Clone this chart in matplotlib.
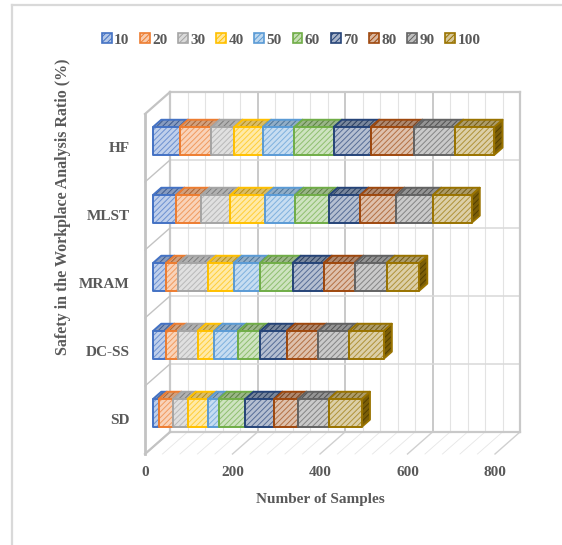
import matplotlib
matplotlib.use("Agg")
import matplotlib.pyplot as plt
from matplotlib.patches import Polygon, Patch
from matplotlib.lines import Line2D
from matplotlib.colors import to_rgb

# categories listed bottom-to-top
categories = ["SD", "DC-SS", "MRAM", "MLST", "HF"]
series_names = ["10", "20", "30", "40", "50", "60", "70", "80", "90", "100"]
series_colors = ["#4472C4", "#ED7D31", "#A5A5A5", "#FFC000", "#5B9BD5",
                 "#70AD47", "#264478", "#9E480E", "#636363", "#997300"]

# samples per ratio level, one row per category (same order as categories)
samples = [
    [13, 33, 33, 47, 24, 61, 66, 55, 70, 75],   # SD
    [30, 28, 44, 38, 55, 50, 61, 72, 70, 79],   # DC-SS
    [30, 28, 67, 59, 61, 74, 71, 72, 72, 74],   # MRAM
    [53, 57, 67, 80, 68, 78, 71, 82, 84, 88],   # MLST
    [61, 72, 53, 65, 72, 90, 85, 99, 93, 90],   # HF
]
x_ticks = [0, 200, 400, 600, 800]

TEXT = "#595959"
plt.rcParams["font.family"] = ["Liberation Serif", "DejaVu Serif"]
plt.rcParams["font.weight"] = "bold"
plt.rcParams["hatch.linewidth"] = 0.7

# oblique 3-D projection: depth d in [0, 1] shifts points right/up
PX_PER_UNIT = 0.4375
PX_PER_CAT = 68.0
X0_PX, Y0_PX = 145.0, 454.0
DX = 25.0 / PX_PER_UNIT
DY = 22.0 / PX_PER_CAT
BAR_D0, BAR_D1 = 0.32, 0.65
BAR_HALF = 0.205


def P(v, c, d):
    return (v + d * DX, c + d * DY)


def mix(col, other, t):
    a = to_rgb(col)
    b = to_rgb(other)
    return tuple(a[i] * (1 - t) + b[i] * t for i in range(3))


def face(ax, pts, bg, hatch_col, edge_col, z):
    ax.add_patch(Polygon(pts, closed=True, facecolor=bg, edgecolor=hatch_col,
                         hatch="//////", linewidth=0, zorder=z))
    ax.add_patch(Polygon(pts, closed=True, fill=False, edgecolor=edge_col,
                         linewidth=1.4, joinstyle="round", zorder=z + 0.0001))


W, H = 562, 545
fig = plt.figure(figsize=(W / 100, H / 100), dpi=100)
ax = fig.add_axes([0, 0, 1, 1])
ax.set_xlim(-X0_PX / PX_PER_UNIT, (W - X0_PX) / PX_PER_UNIT)
ax.set_ylim((Y0_PX - H) / PX_PER_CAT, Y0_PX / PX_PER_CAT)
ax.axis("off")

# chart frame
fig.add_artist(Line2D([12 / W, 12 / W], [0, 1 - 5 / H], transform=fig.transFigure,
                      color="#d9d9d9", lw=1.6))
fig.add_artist(Line2D([12 / W, 1], [1 - 5 / H, 1 - 5 / H], transform=fig.transFigure,
                      color="#d9d9d9", lw=1.6))

n_cat = len(categories)
vmax = x_ticks[-1]

# back wall, floor and left wall grid
for k in range(0, vmax + 1, 40):
    major = k % 200 == 0
    col = "#c9c9c9" if major else "#e3e3e3"
    lw = 1.4 if major else 0.8
    (xa, ya), (xb, yb) = P(k, 0, 1), P(k, n_cat, 1)
    ax.plot([xa, xb], [ya, yb], color=col, lw=lw, zorder=1)
    (xa, ya), (xb, yb) = P(k, 0, 0), P(k, 0, 1)
    ax.plot([xa, xb], [ya, yb], color="#d0d0d0" if major else "#e6e6e6",
            lw=1.0 if major else 0.6, zorder=1)
for c in range(n_cat + 1):
    (xa, ya), (xb, yb) = P(0, c, 1), P(vmax, c, 1)
    edge = c in (0, n_cat)
    ax.plot([xa, xb], [ya, yb], color="#c9c9c9" if edge else "#d9d9d9",
            lw=1.6 if edge else 1.1, zorder=1)
    (xa, ya), (xb, yb) = P(0, c, 0), P(0, c, 1)
    ax.plot([xa, xb], [ya, yb], color="#c3c3c3", lw=1.6 if edge else 1.0, zorder=2)
(xa, ya), (xb, yb) = P(0, 0, 0), P(0, n_cat, 0)
ax.plot([xa, xb], [ya, yb], color="#c3c3c3", lw=2.0, zorder=2)
(xa, ya), (xb, yb) = P(0, 0, 1), P(0, n_cat, 1)
ax.plot([xa, xb], [ya, yb], color="#c9c9c9", lw=1.6, zorder=1)
(xa, ya), (xb, yb) = P(vmax, 0, 1), P(vmax, n_cat, 1)
ax.plot([xa, xb], [ya, yb], color="#c9c9c9", lw=1.6, zorder=1)

# stacked 3-D bars
for i, row in enumerate(samples):
    c0, c1 = i + 0.5 - BAR_HALF, i + 0.5 + BAR_HALF
    left = 0
    for j, val in enumerate(row):
        right = left + val
        base = series_colors[j]
        front_bg = mix(base, "white", 0.66)
        front_h = mix(base, "white", 0.22)
        top_bg = mix(mix(base, "white", 0.45), "#404040", 0.2)
        side_bg = mix(base, "#202020", 0.25)
        z = 5 + i * 0.1 + j * 0.005
        side = [P(right, c0, BAR_D0), P(right, c0, BAR_D1),
                P(right, c1, BAR_D1), P(right, c1, BAR_D0)]
        top = [P(left, c1, BAR_D0), P(right, c1, BAR_D0),
               P(right, c1, BAR_D1), P(left, c1, BAR_D1)]
        front = [P(left, c0, BAR_D0), P(right, c0, BAR_D0),
                 P(right, c1, BAR_D0), P(left, c1, BAR_D0)]
        face(ax, side, side_bg, mix(base, "#000000", 0.45), base, z)
        face(ax, top, top_bg, mix(base, "#303030", 0.35), base, z + 0.001)
        face(ax, front, front_bg, front_h, base, z + 0.002)
        left = right

# axis labels
for t in x_ticks:
    ax.text(t, (Y0_PX - 473) / PX_PER_CAT, str(t), ha="center", va="center",
            fontsize=11, color=TEXT)
for i, name in enumerate(categories):
    ax.text((130 - X0_PX) / PX_PER_UNIT, i + 0.5, name, ha="right", va="center",
            fontsize=11, color=TEXT)
ax.text(vmax / 2, (Y0_PX - 500) / PX_PER_CAT, "Number of Samples", ha="center",
        va="center", fontsize=11, color=TEXT)
ax.text((63 - X0_PX) / PX_PER_UNIT, (Y0_PX - 207) / PX_PER_CAT,
        "Safety in the Workplace Analysis Ratio (%)", rotation=90,
        ha="center", va="center", fontsize=11.5, color=TEXT)

handles = [Patch(facecolor=mix(col, "white", 0.6), edgecolor=col, linewidth=1.2,
                 hatch="//////", label=name)
           for name, col in zip(series_names, series_colors)]
fig.legend(handles=handles, loc="center", bbox_to_anchor=(291 / W, 1 - 40 / H),
           ncol=10, frameon=False, fontsize=11, handlelength=0.65,
           handleheight=0.65, handletextpad=0.15, columnspacing=0.7,
           labelcolor=TEXT, borderpad=0)

fig.savefig("out.png", dpi=100, facecolor="white")
